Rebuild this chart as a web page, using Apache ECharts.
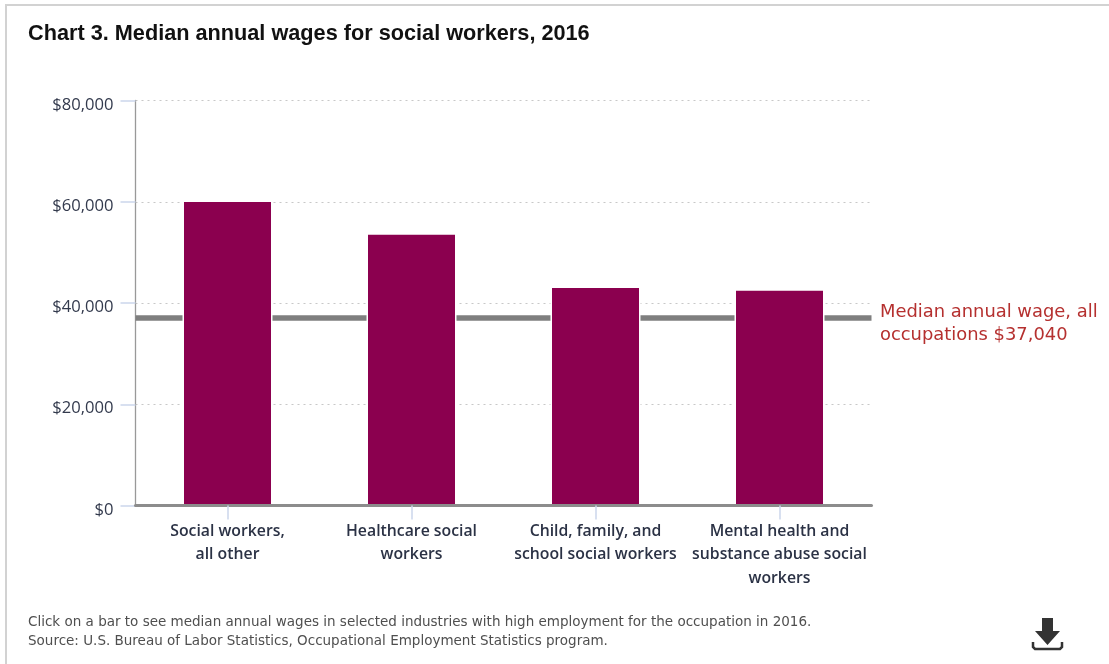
<!DOCTYPE html>
<html><head><meta charset="utf-8">
<style>html,body{margin:0;padding:0;background:#fff;overflow:hidden}#c{width:1109px;height:664px}</style>
<script src="https://cdn.jsdelivr.net/npm/echarts@6/dist/echarts.min.js"></script>
</head><body><div id="c"></div>
<script>
const titleText = 'Chart 3. Median annual wages for social workers, 2016';
const categories = ['Social workers,\nall other','Healthcare social\nworkers','Child, family, and\nschool social workers','Mental health and\nsubstance abuse social\nworkers'];
const wages = [60230, 53760, 43250, 42700];
const medianWage = 37040;
const medianLabel = 'Median annual wage, all\noccupations $37,040';
const footnote = 'Click on a bar to see median annual wages in selected industries with high employment for the occupation in 2016.\nSource: U.S. Bureau of Labor Statistics, Occupational Employment Statistics program.';

const chart = echarts.init(document.getElementById('c'), null, {renderer:'canvas'});
chart.setOption({
  animation:false,
  backgroundColor:'#fff',
  title:{text:titleText,left:23,top:18,textStyle:{fontFamily:'Liberation Sans',fontWeight:'bold',fontSize:21.7,color:'#111'}},
  grid:{left:135.5,right:237.5,top:100.5,bottom:158.5,containLabel:false},
  xAxis:{type:'category',data:categories,z:6,
    axisLine:{lineStyle:{color:'#8c8c8c',width:3}},
    axisTick:{show:true,alignWithLabel:true,length:14,lineStyle:{color:'#ccd6eb',width:1.5}},
    axisLabel:{interval:0,margin:14,lineHeight:23.5,fontFamily:'Open Sans',fontWeight:600,fontSize:15.8,color:'#2b3245'}},
  yAxis:{type:'value',min:0,max:80000,interval:20000,
    axisLine:{show:true,lineStyle:{color:'#999',width:1.3}},
    axisTick:{show:true,length:15,lineStyle:{color:'#ccd6eb',width:1.5}},
    axisLabel:{margin:22,verticalAlign:'top',lineHeight:9,fontFamily:'Open Sans',fontSize:16.6,color:'#333a4d',formatter:v=>'$'+v.toLocaleString('en-US')},
    splitLine:{lineStyle:{color:'#c8c8c8',type:[2,4],width:1.2}}},
  series:[{type:'bar',data:wages,barWidth:90,z:3,
    itemStyle:{color:'#8b004f',borderColor:'#fff',borderWidth:1.5},
    markLine:{silent:true,z:1,symbol:'none',animation:false,
      data:[{yAxis:medianWage}],
      lineStyle:{color:'#7f7f7f',width:5.5,type:'solid'},
      label:{show:false}}}],
  graphic:[
    {type:'rect',silent:true,shape:{x:6,y:5,width:1200,height:800},style:{fill:'none',stroke:'#d2d2d2',lineWidth:2}},
    {type:'text',x:880,y:300.5,style:{text:medianLabel,fontFamily:'DejaVu Sans',fontSize:17.9,lineHeight:23,fill:'#b5302f'}},
    {type:'text',x:28,y:613,style:{text:footnote,fontFamily:'DejaVu Sans',fontSize:13.5,lineHeight:19,fill:'#4f4f4f'}},
    {type:'polygon',silent:true,shape:{points:[[1042,618],[1053,618],[1053,631],[1060,631],[1047.5,645],[1035,631],[1042,631]]},style:{fill:'#333'}},
    {type:'polyline',silent:true,shape:{points:[[1033,642],[1033,647],[1035,649],[1060,649],[1062,647],[1062,642]]},style:{stroke:'#333',fill:'none',lineWidth:2.5}}
  ]
});
</script></body></html>
